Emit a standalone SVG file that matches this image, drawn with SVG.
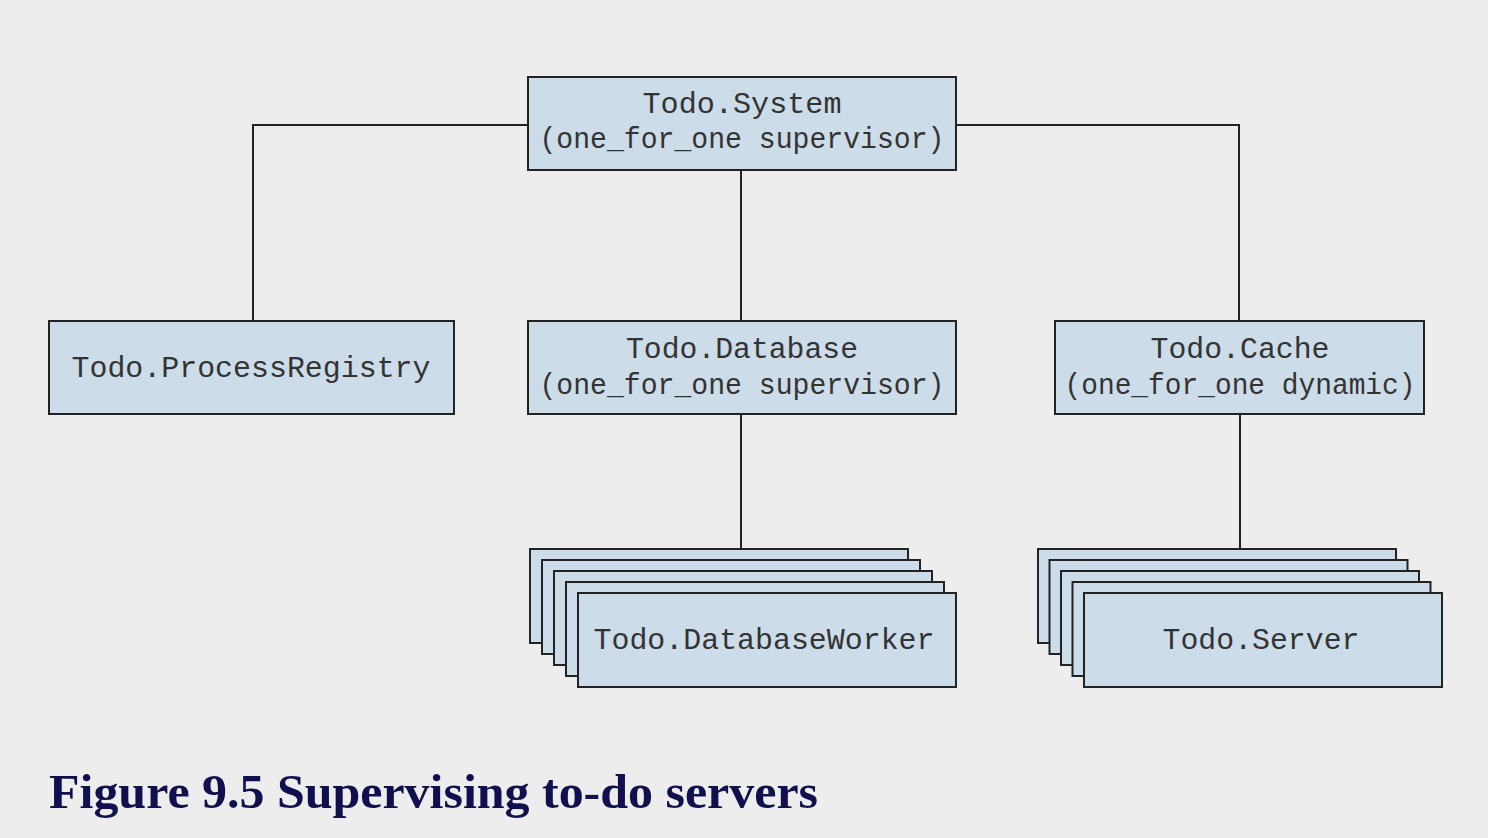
<svg xmlns="http://www.w3.org/2000/svg" width="1488" height="838" viewBox="0 0 1488 838">
<style>
.bg{fill:#ededed}
.box{fill:#ccdce8;stroke:#222;stroke-width:2}
.t{font-family:"Liberation Mono","Courier New",monospace;font-size:29px;fill:#333;text-anchor:middle}
.conn{stroke:#222;stroke-width:2;fill:none}
.title{font-family:"Liberation Serif","Times New Roman",serif;font-weight:bold;font-size:49px;fill:#10104f}
</style>
<rect class="bg" x="0" y="0" width="1488" height="838"/>
<g id="connectors">
<polyline class="conn" points="528,125 253,125 253,321"/>
<polyline class="conn" points="956,125 1239,125 1239,321"/>
<line class="conn" x1="741" y1="170" x2="741" y2="321"/>
<line class="conn" x1="741" y1="414" x2="741" y2="549"/>
<line class="conn" x1="1240" y1="414" x2="1240" y2="549"/>
</g>
<g id="system">
<rect class="box" x="528" y="77" width="428" height="93"/>
<text class="t" x="742" y="113" textLength="199" lengthAdjust="spacingAndGlyphs">Todo.System</text>
<text class="t" x="742" y="148" textLength="405" lengthAdjust="spacingAndGlyphs">(one_for_one supervisor)</text>
</g>
<g id="registry">
<rect class="box" x="49" y="321" width="405" height="93"/>
<text class="t" x="251" y="377" textLength="359" lengthAdjust="spacingAndGlyphs">Todo.ProcessRegistry</text>
</g>
<g id="database">
<rect class="box" x="528" y="321" width="428" height="93"/>
<text class="t" x="742" y="358" textLength="232" lengthAdjust="spacingAndGlyphs">Todo.Database</text>
<text class="t" x="742" y="394" textLength="405" lengthAdjust="spacingAndGlyphs">(one_for_one supervisor)</text>
</g>
<g id="cache">
<rect class="box" x="1055" y="321" width="369" height="93"/>
<text class="t" x="1240" y="358" textLength="179" lengthAdjust="spacingAndGlyphs">Todo.Cache</text>
<text class="t" x="1240" y="394" textLength="351" lengthAdjust="spacingAndGlyphs">(one_for_one dynamic)</text>
</g>
<g id="workers">
<rect class="box" x="530" y="549" width="378" height="94"/>
<rect class="box" x="542" y="560" width="378" height="94"/>
<rect class="box" x="554" y="571" width="378" height="94"/>
<rect class="box" x="566" y="582" width="378" height="94"/>
<rect class="box" x="578" y="593" width="378" height="94"/>
<text class="t" x="764" y="649" textLength="341" lengthAdjust="spacingAndGlyphs">Todo.DatabaseWorker</text>
</g>
<g id="servers">
<rect class="box" x="1038" y="549" width="358" height="94"/>
<rect class="box" x="1049.5" y="560" width="358" height="94"/>
<rect class="box" x="1061" y="571" width="358" height="94"/>
<rect class="box" x="1072.5" y="582" width="358" height="94"/>
<rect class="box" x="1084" y="593" width="358" height="94"/>
<text class="t" x="1261" y="649" textLength="197" lengthAdjust="spacingAndGlyphs">Todo.Server</text>
</g>
<text class="title" x="49" y="808" textLength="769" lengthAdjust="spacingAndGlyphs">Figure 9.5 Supervising to-do servers</text>
</svg>
